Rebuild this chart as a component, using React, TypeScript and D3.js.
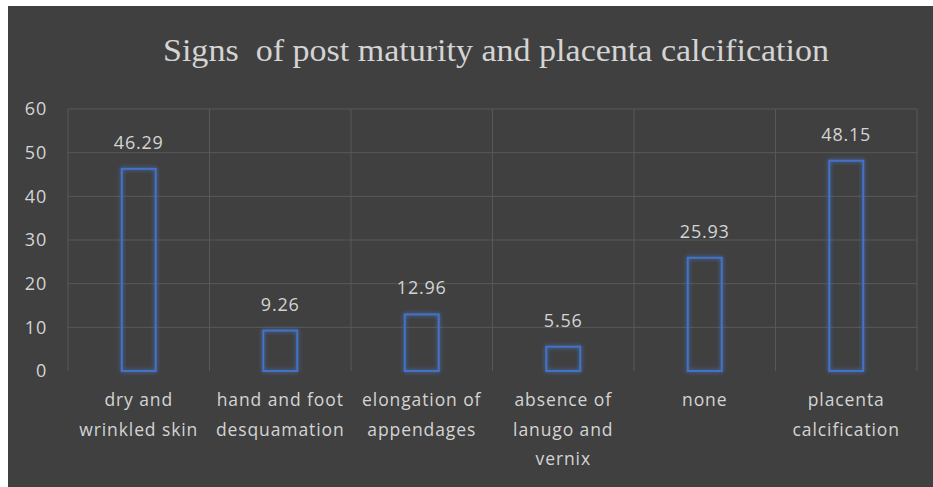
import React from "react";
import * as d3 from "d3";

const categories: string[][] = [
  ["dry and", "wrinkled skin"],
  ["hand and foot", "desquamation"],
  ["elongation of", "appendages"],
  ["absence of", "lanugo and", "vernix"],
  ["none"],
  ["placenta", "calcification"],
];
const values: number[] = [46.29, 9.26, 12.96, 5.56, 25.93, 48.15];
const yTicks: number[] = [0, 10, 20, 30, 40, 50, 60];
const title = "Signs  of post maturity and placenta calcification";

const W = 933;
const H = 487;
const plot = { left: 68, right: 917, top: 109, bottom: 371 };

export default function App() {
  const x = d3
    .scaleBand<number>()
    .domain(values.map((_, i) => i))
    .range([plot.left, plot.right])
    .paddingInner(0)
    .paddingOuter(0);
  const y = d3.scaleLinear().domain([0, 60]).range([plot.bottom, plot.top]);
  const bw = x.bandwidth() * 0.24;
  const textColor = "#d4d4d4";
  const font = "'Open Sans', 'Noto Sans', sans-serif";
  const gridEdges = values.map((_, i) => x(i) as number).concat([plot.right]);

  return (
    <svg
      width={W}
      height={H}
      style={{ position: "absolute", left: 0, top: 0, display: "block" }}
    >
      <defs>
        <filter id="glow" x="-50%" y="-20%" width="200%" height="140%">
          <feGaussianBlur in="SourceGraphic" stdDeviation="2.2" result="b" />
          <feMerge>
            <feMergeNode in="b" />
            <feMergeNode in="SourceGraphic" />
          </feMerge>
        </filter>
      </defs>
      <rect x={0} y={0} width={W} height={H} fill="#ffffff" />
      <rect x={8} y={6} width={W - 8} height={H - 6} fill="#404040" />
      <text
        x={496}
        y={61}
        textAnchor="middle"
        fill={textColor}
        fontFamily="'Liberation Serif', 'DejaVu Serif', serif"
        fontSize={32}
        textLength={666}
        lengthAdjust="spacingAndGlyphs"
        style={{ whiteSpace: "pre" }}
      >
        {title}
      </text>
      {yTicks.map((t) => (
        <g key={"g" + t}>
          {t > 0 && (
            <line
              x1={plot.left}
              x2={plot.right}
              y1={y(t)}
              y2={y(t)}
              stroke="#585858"
              strokeWidth={1}
            />
          )}
          <text
            x={47}
            y={y(t)}
            dy="0.35em"
            textAnchor="end"
            fill={textColor}
            fontFamily={font}
            fontSize={18}
            letterSpacing={0.8}
          >
            {t}
          </text>
        </g>
      ))}
      {gridEdges.map((gx, i) => (
        <line
          key={"v" + i}
          x1={gx}
          x2={gx}
          y1={plot.top}
          y2={plot.bottom}
          stroke="#585858"
          strokeWidth={1}
        />
      ))}
      {values.map((v, i) => {
        const cx = (x(i) as number) + x.bandwidth() / 2;
        return (
          <g key={"b" + i}>
            <rect
              x={cx - bw / 2}
              y={y(v)}
              width={bw}
              height={y(0) - y(v)}
              fill="none"
              stroke="#4472c4"
              strokeWidth={2}
              filter="url(#glow)"
            />
            <text
              x={cx}
              y={y(v) - 20}
              textAnchor="middle"
              fill={textColor}
              fontFamily={font}
              fontSize={18}
              letterSpacing={0.8}
            >
              {v.toFixed(2)}
            </text>
            {categories[i].map((line, j) => (
              <text
                key={j}
                x={cx}
                y={400 + j * 29.5}
                dy="0.35em"
                textAnchor="middle"
                fill={textColor}
                fontFamily={font}
                fontSize={17.5}
                letterSpacing={0.9}
              >
                {line}
              </text>
            ))}
          </g>
        );
      })}
    </svg>
  );
}
